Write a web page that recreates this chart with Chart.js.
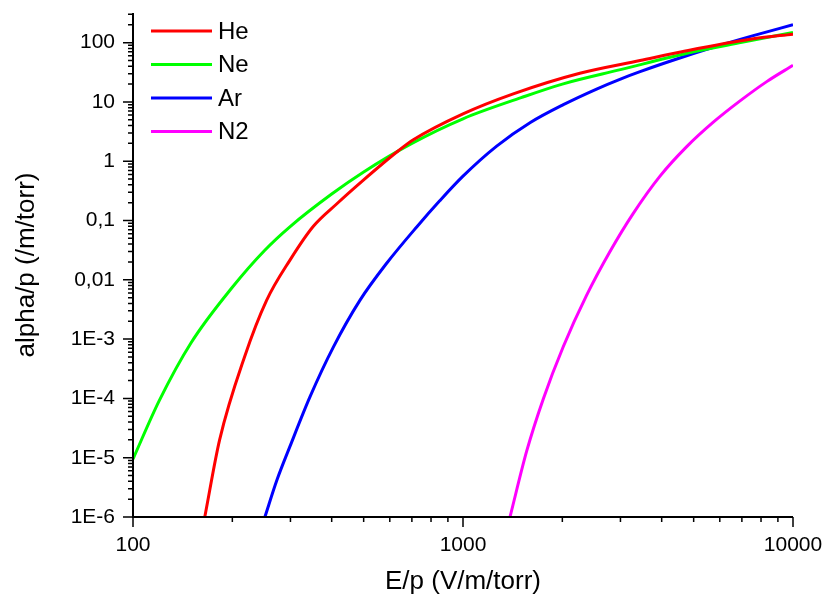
<!DOCTYPE html>
<html>
<head>
<meta charset="utf-8">
<script src="https://cdn.jsdelivr.net/npm/chart.js@4.4.1/dist/chart.umd.min.js"></script>
<style>
    html, body { margin: 0; padding: 0; background: #fff; }
</style>
</head>
<body>
<canvas id="chart-alpha" width="824" height="600"></canvas>
<script>
var gasNames = ['He', 'Ne', 'Ar', 'N2'];

// E/p (V/m/torr) and alpha/p (/m/torr)
var heE = [165, 183, 218, 254, 299, 352, 414, 499, 637, 707, 1000, 1420, 2260, 3440, 4760, 7580, 10000];
var heAlpha = [1.0e-6, 2.0e-5, 5.1e-4, 4.5e-3, 0.0215, 0.08, 0.19, 0.48, 1.5, 2.3, 6.3, 13.7, 30.5, 50, 73, 116, 139];

var neE = [100, 120, 150, 200, 250, 300, 400, 500, 700, 1000, 1500, 2000, 3000, 5000, 7000, 10000];
var neAlpha = [9.5e-6, 9.1e-5, 8.7e-4, 7.5e-3, 0.031, 0.08, 0.28, 0.66, 2.0, 5.2, 11.8, 20, 35, 70, 101, 148];

var arE = [251, 273, 299, 344, 405, 487, 587, 724, 850, 1000, 1265, 1600, 2014, 2540, 3000, 3440, 4760, 6010, 7580, 10000];
var arAlpha = [1.0e-6, 4.2e-6, 1.55e-5, 1.07e-4, 7.4e-4, 4.5e-3, 0.019, 0.078, 0.215, 0.56, 1.8, 4.5, 9.0, 16.5, 24.3, 32.4, 60, 90, 131, 200];

var n2E = [1388, 1560, 1751, 2014, 2370, 2789, 3281, 3954, 4764, 5735, 6910, 8325, 10000];
var n2Alpha = [1.0e-6, 1.3e-5, 9.8e-5, 7.5e-4, 5.5e-3, 0.030, 0.132, 0.56, 1.76, 4.55, 10.4, 22, 41.5];

var xTickValues = [100, 1000, 10000];
var xTickLabels = ['100', '1000', '10000'];
var yTickValues = [1e-6, 1e-5, 1e-4, 1e-3, 0.01, 0.1, 1, 10, 100];
var yTickLabels = ['1E-6', '1E-5', '1E-4', '1E-3', '0,01', '0,1', '1', '10', '100'];

var FONT = '"Liberation Sans", Arial, sans-serif';

function toPoints(xs, ys) {
    return xs.map(function(x, i) { return { x: x, y: ys[i] }; });
}

function labelFor(value, values, labels) {
    for (var i = 0; i < values.length; i++) {
        if (Math.abs(Math.log10(value) - Math.log10(values[i])) < 1e-6) {
            return labels[i];
        }
    }
    return '';
}

// true for 1..9 x 10^n, false for the scale's odd end values
function isNiceTick(v) {
    var s = v / Math.pow(10, Math.floor(Math.log10(v) + 1e-9));
    return Math.abs(s - Math.round(s)) < 1e-6;
}

function isDecade(v) {
    var l = Math.log10(v);
    return Math.abs(l - Math.round(l)) < 1e-6;
}

function gasLine(label, xs, ys, color) {
    return {
        label: label,
        data: toPoints(xs, ys),
        borderColor: color,
        backgroundColor: color,
        borderWidth: 3,
        pointRadius: 0,
        fill: false,
        cubicInterpolationMode: 'monotone'
    };
}

// axis lines plus long/short tick marks drawn outward
var axesPlugin = {
    id: 'axesTicks',
    afterDraw: function(chart) {
        var ctx = chart.ctx;
        var area = chart.chartArea;
        var xs = chart.scales.x;
        var ys = chart.scales.y;
        ctx.save();
        ctx.strokeStyle = '#000';
        ctx.lineWidth = 1.5;
        ctx.beginPath();
        xs.ticks.forEach(function(t) {
            if (!isNiceTick(t.value)) return;
            var px = xs.getPixelForValue(t.value);
            ctx.moveTo(px, area.bottom);
            ctx.lineTo(px, area.bottom + (isDecade(t.value) ? 10 : 5));
        });
        ys.ticks.forEach(function(t) {
            if (!isNiceTick(t.value)) return;
            var py = ys.getPixelForValue(t.value);
            ctx.moveTo(area.left, py);
            ctx.lineTo(area.left - (isDecade(t.value) ? 10 : 5), py);
        });
        ctx.stroke();
        ctx.lineWidth = 2;
        ctx.beginPath();
        ctx.moveTo(area.left, area.top);
        ctx.lineTo(area.left, area.bottom);
        ctx.lineTo(area.right, area.bottom);
        ctx.stroke();
        ctx.restore();
    }
};

var legendPlugin = {
    id: 'insideLegend',
    afterDraw: function(chart) {
        var ctx = chart.ctx;
        var area = chart.chartArea;
        ctx.save();
        ctx.font = '24px ' + FONT;
        ctx.textBaseline = 'middle';
        chart.data.datasets.forEach(function(ds, i) {
            var y = area.top + 18 + i * 33.5;
            ctx.strokeStyle = ds.borderColor;
            ctx.lineWidth = 3;
            ctx.beginPath();
            ctx.moveTo(area.left + 18, y);
            ctx.lineTo(area.left + 79, y);
            ctx.stroke();
            ctx.fillStyle = '#000';
            ctx.fillText(ds.label, area.left + 85, y + 1);
        });
        ctx.restore();
    }
};

document.addEventListener('DOMContentLoaded', function() {
    var canvas = document.getElementById('chart-alpha');
    new Chart(canvas.getContext('2d'), {
        type: 'line',
        data: {
            datasets: [
                gasLine(gasNames[0], heE, heAlpha, '#ff0000'),
                gasLine(gasNames[1], neE, neAlpha, '#00ff00'),
                gasLine(gasNames[2], arE, arAlpha, '#0000ff'),
                gasLine(gasNames[3], n2E, n2Alpha, '#ff00ff')
            ]
        },
        options: {
            responsive: false,
            devicePixelRatio: 1,
            animation: false,
            layout: { padding: { top: 13, right: 31, left: 0, bottom: 0 } },
            plugins: { legend: { display: false }, tooltip: { enabled: false } },
            scales: {
                x: {
                    type: 'logarithmic',
                    min: 100,
                    max: 10000,
                    grid: { display: false, drawTicks: false },
                    border: { display: false },
                    afterFit: function(scale) {
                        scale.height = 83;
                        scale.paddingLeft = 0;
                        scale.paddingRight = 0;
                    },
                    ticks: {
                        autoSkip: false,
                        maxRotation: 0,
                        padding: 16,
                        color: '#000',
                        font: { family: FONT, size: 21 },
                        callback: function(v) { return labelFor(v, xTickValues, xTickLabels); }
                    },
                    title: {
                        display: true,
                        text: 'E/p (V/m/torr)',
                        color: '#000',
                        font: { family: FONT, size: 26 },
                        padding: { top: 0, bottom: 3 }
                    }
                },
                y: {
                    type: 'logarithmic',
                    min: 1e-6,
                    max: 316,
                    grid: { display: false, drawTicks: false },
                    border: { display: false },
                    afterFit: function(scale) {
                        scale.width = 133;
                        scale.paddingTop = 0;
                        scale.paddingBottom = 0;
                    },
                    ticks: {
                        autoSkip: false,
                        padding: 18,
                        color: '#000',
                        font: { family: FONT, size: 21 },
                        callback: function(v) { return labelFor(v, yTickValues, yTickLabels); }
                    },
                    title: {
                        display: true,
                        text: 'alpha/p (/m/torr)',
                        color: '#000',
                        font: { family: FONT, size: 26 },
                        padding: { top: 11, bottom: 0 }
                    }
                }
            }
        },
        plugins: [axesPlugin, legendPlugin]
    });
});
</script>
</body>
</html>
